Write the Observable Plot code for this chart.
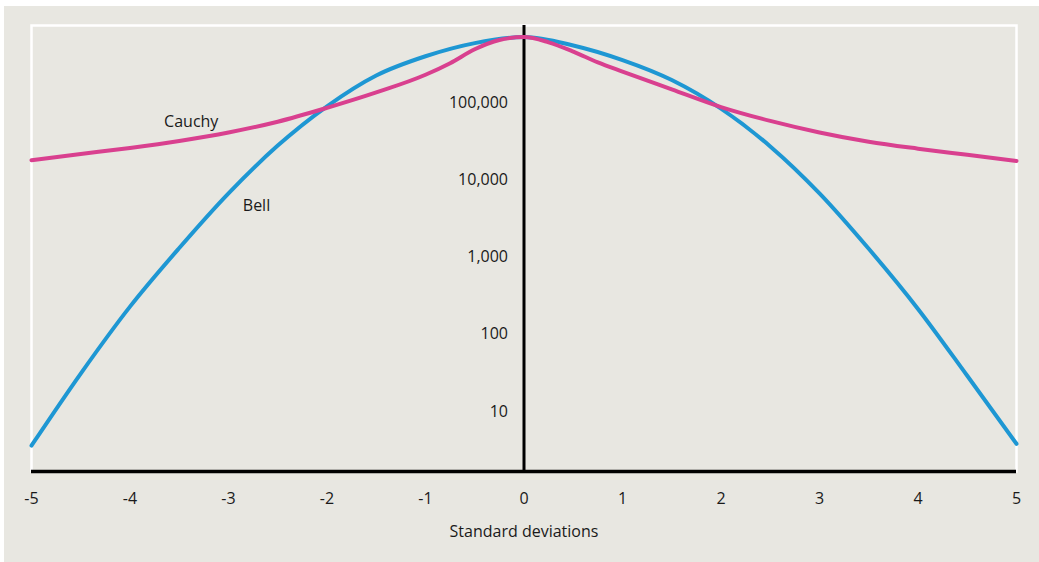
<!DOCTYPE html>
<html>
<head>
<meta charset="utf-8">
<script src="https://cdn.jsdelivr.net/npm/d3@7"></script>
<script src="https://cdn.jsdelivr.net/npm/@observablehq/plot@0.6"></script>
<style>
  html, body { margin: 0; padding: 0; background: #ffffff; }
  #panel {
    position: absolute; left: 4px; top: 6px;
    width: 1035px; height: 556px;
    background: #e8e7e1;
  }
  #panel svg { display: block; background: transparent; }
</style>
</head>
<body>
<div id="panel"></div>
<script>
// Standard deviations from the mean
const bellX = [-5, -4.5, -4, -3.5, -3, -2.5, -2, -1.5, -1, -0.5, 0, 0.5, 1, 1.5, 2, 2.5, 3, 3.5, 4, 4.5, 5];
// Bell (normal) curve, log-scale counts
const bellY = [3.6, 31, 229, 1320, 6760, 28200, 91200, 229000, 407000, 603000, 724000,
               562000, 363000, 200000, 85100, 27500, 6760, 1290, 214, 29, 3.8];

const cauchyX = [-5, -4.5, -4, -3.5, -3, -2.5, -2, -1.5, -1, -0.75, -0.5, -0.25, 0,
                 0.25, 0.5, 0.75, 1, 1.5, 2, 2.5, 3, 3.5, 4, 4.5, 5];
// Cauchy (fat-tailed) curve
const cauchyY = [18200, 21900, 26300, 32400, 41700, 57500, 87100, 138000, 234000, 331000, 501000, 661000, 724000,
                 617000, 468000, 339000, 257000, 151000, 89100, 58900, 41700, 31600, 25700, 21400, 17800];

const xTicks = [-5, -4, -3, -2, -1, 0, 1, 2, 3, 4, 5];
const yTicks = [10, 100, 1000, 10000, 100000];
const xLabel = "Standard deviations";

const bell = bellX.map((x, i) => ({x, y: bellY[i]}));
const cauchy = cauchyX.map((x, i) => ({x, y: cauchyY[i]}));

const font = "'Open Sans', 'DejaVu Sans', sans-serif";
const ink = "#1a1a1a";

const chart = Plot.plot({
  width: 1035,
  height: 556,
  marginLeft: 27,
  marginRight: 23,
  marginTop: 19,
  marginBottom: 91,
  style: { fontFamily: font, fontSize: "16px", color: ink, background: "transparent" },
  x: { domain: [-5, 5] },
  y: { type: "log", domain: [1.66, 1020000] },
  marks: [
    Plot.frame({ stroke: "#ffffff", strokeWidth: 2.5 }),
    Plot.axisX(xTicks, {
      tickSize: 0, tickPadding: 21, label: null,
      tickFormat: d => String(d).replace("−", "-"),
      fontSize: 16, fill: ink
    }),
    Plot.axisY({ ticks: [], label: null, tickSize: 0 }),
    Plot.ruleX([0], { stroke: "#000", strokeWidth: 3 }),
    Plot.ruleY([1.66], { stroke: "#000", strokeWidth: 3.5 }),
    Plot.text(yTicks, {
      x: () => 0, y: d => d, text: d => d3.format(",")(d),
      textAnchor: "end", dx: -16, fontSize: 16, fill: ink
    }),
    Plot.line(bell, { x: "x", y: "y", stroke: "#1e97d3", strokeWidth: 4, curve: "monotone-x" }),
    Plot.line(cauchy, { x: "x", y: "y", stroke: "#d9408f", strokeWidth: 4, curve: "monotone-x" }),
    Plot.text(cauchy.filter(d => d.x === -3.5), {
      x: "x", y: "y", text: () => "Cauchy", dx: 12, dy: -19, fontSize: 16, fill: ink
    }),
    Plot.text(bell.filter(d => d.x === -3), {
      x: "x", y: "y", text: () => "Bell", dx: 28, dy: 13, fontSize: 16, fill: ink
    }),
    Plot.text([xLabel], { frameAnchor: "bottom", dy: 65, fontSize: 16, fill: ink })
  ]
});

document.getElementById("panel").appendChild(chart);
</script>
</body>
</html>
